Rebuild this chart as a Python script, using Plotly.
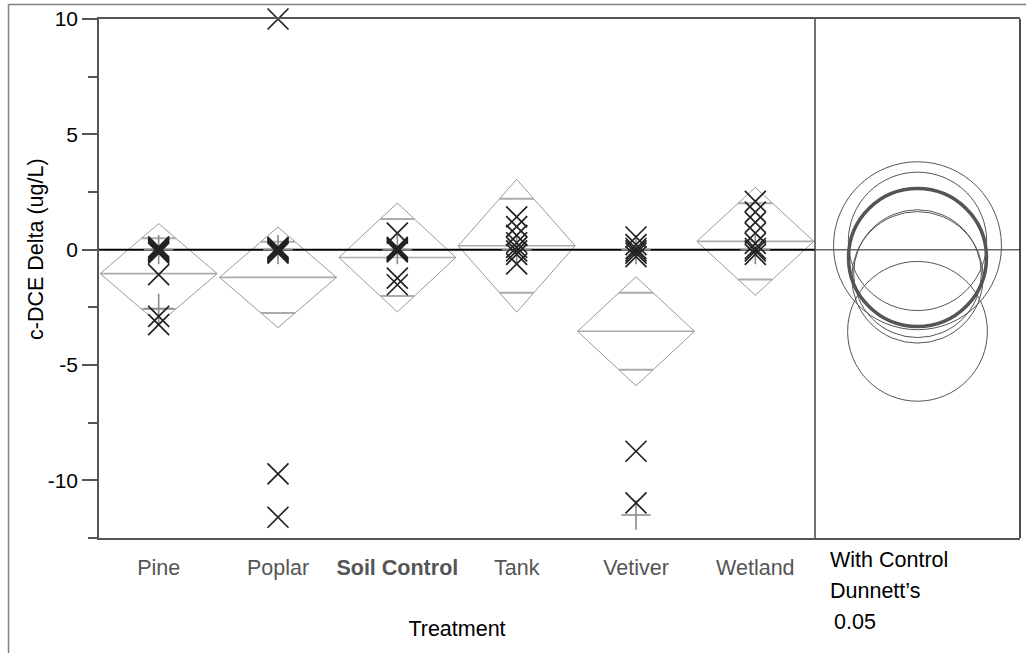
import math
import plotly.graph_objects as go

# ---- data -------------------------------------------------------------
treatments = ["Pine", "Poplar", "Soil Control", "Tank", "Vetiver", "Wetland"]
control = "Soil Control"

pine_vals = [0.12, 0.06, 0.0, -0.05, -0.1, -0.15, -1.08, -2.89, -3.25]
poplar_vals = [10.0, 0.1, 0.05, 0.0, -0.05, -0.1, -0.15, -9.72, -11.6]
soil_vals = [0.72, 0.1, 0.05, 0.0, -0.05, -0.1, -1.23, -1.52]
tank_vals = [1.42, 1.0, 0.62, 0.3, 0.1, -0.05, -0.2, -0.62]
vetiver_vals = [0.55, 0.22, 0.05, -0.05, -0.15, -0.3, -8.74, -10.98]
wetland_vals = [2.09, 1.63, 1.18, 0.72, 0.27, 0.05, -0.05, -0.2]

# second marker state (drawn as grey plus signs)
pine_plus = [0.0, -2.55]
poplar_plus = [0.0]
soil_plus = [0.0]
tank_plus = [0.0]
vetiver_plus = [0.0, -11.5]
wetland_plus = [0.0]

# means diamonds: group mean and 95% CI half-width
group_means = [-1.04, -1.20, -0.34, 0.17, -3.54, 0.36]
ci_half = [2.17, 2.18, 2.36, 2.88, 2.36, 2.34]
# Dunnett's comparison circle radii (with control, alpha 0.05)
circle_radius = [2.77, 2.85, 2.99, 3.64, 3.03, 3.00]

y_ticks = [-10, -5, 0, 5, 10]
y_tick_text = ["-10", "-5", "0", "5", "10"]
y_range = [-12.5, 10]

# ---- layout geometry ----------------------------------------------------
W, H = 1026, 653
ML, MR, MT, MB = 99, 6, 19, 115
PW, PH = W - ML - MR, H - MT - MB
main_w = 716                       # width of the means-diamond panel
split = main_w / PW                # domain split between the two panels
ppu = PH / (y_range[1] - y_range[0])  # pixels per y unit
x2_half = (PW - main_w) / ppu / 2  # right panel x-range so circles stay round

FONT = "Liberation Sans, Arial, sans-serif"
FS = 21.5

def px_x(p):
    return (p - ML) / PW

def px_y(p):
    return 1 - (p - MT) / PH

groups = [pine_vals, poplar_vals, soil_vals, tank_vals, vetiver_vals, wetland_vals]
pluses = [pine_plus, poplar_plus, soil_plus, tank_plus, vetiver_plus, wetland_plus]

fig = go.Figure()

# means diamonds
half_w = 0.49
for i, (m, h) in enumerate(zip(group_means, ci_half)):
    xs = [i - half_w, i, i + half_w, i, i - half_w]
    ys = [m, m + h, m, m - h, m]
    fig.add_trace(go.Scatter(x=xs, y=ys, mode="lines",
                             line=dict(color="#9a9a9a", width=1),
                             hoverinfo="skip", showlegend=False))
    # mean line
    fig.add_trace(go.Scatter(x=[i - half_w, i + half_w], y=[m, m], mode="lines",
                             line=dict(color="#ababab", width=1.6),
                             hoverinfo="skip", showlegend=False))
    # overlap marks
    off = h / math.sqrt(2)
    chord = half_w * (1 - 1 / math.sqrt(2))
    for yy in (m + off, m - off):
        fig.add_trace(go.Scatter(x=[i - chord, i + chord], y=[yy, yy], mode="lines",
                                 line=dict(color="#ababab", width=2),
                                 hoverinfo="skip", showlegend=False))

# reference line at zero
fig.add_trace(go.Scatter(x=[-0.5, 5.5], y=[0, 0], mode="lines",
                         line=dict(color="#000000", width=2),
                         hoverinfo="skip", showlegend=False))

# grey plus markers
px_, py_ = [], []
for i, vals in enumerate(pluses):
    px_ += [i] * len(vals)
    py_ += vals
fig.add_trace(go.Scatter(x=px_, y=py_, mode="markers", cliponaxis=False,
                         marker=dict(symbol="cross-thin", size=21,
                                     line=dict(color="#8a8a8a", width=1.6)),
                         showlegend=False))

# observations
ox, oy = [], []
for i, vals in enumerate(groups):
    ox += [i] * len(vals)
    oy += vals
fig.add_trace(go.Scatter(x=ox, y=oy, mode="markers", cliponaxis=False,
                         marker=dict(symbol="x-thin", size=21,
                                     line=dict(color="#222222", width=1.7)),
                         showlegend=False))

# invisible anchor trace for the comparison-circle panel
fig.add_trace(go.Scatter(x=[0], y=[0], xaxis="x2", yaxis="y", mode="markers",
                         marker=dict(opacity=0), hoverinfo="skip", showlegend=False))

shapes = []
# horizontal line in comparison-circle panel
shapes.append(dict(type="line", xref="x2 domain", yref="y", x0=0, x1=1, y0=0, y1=0,
                   line=dict(color="#6a6a6a", width=1.5)))
# comparison circles
for name, m, r in zip(treatments, group_means, circle_radius):
    shapes.append(dict(type="circle", xref="x2", yref="y",
                       x0=-r, x1=r, y0=m - r, y1=m + r,
                       line=dict(color="#555555", width=3.5 if name == control else 1)))
# panel dividers
shapes.append(dict(type="line", xref="paper", yref="paper", x0=split, x1=split, y0=0, y1=1,
                   line=dict(color="#444444", width=1.5)))
shapes.append(dict(type="line", xref="paper", yref="paper", x0=1, x1=1, y0=0, y1=1,
                   line=dict(color="#111111", width=1.5)))
# outer report frame
shapes.append(dict(type="line", xref="paper", yref="paper",
                   x0=px_x(8.5), x1=px_x(1030), y0=px_y(4.5), y1=px_y(4.5),
                   line=dict(color="#808080", width=1.5)))
shapes.append(dict(type="line", xref="paper", yref="paper",
                   x0=px_x(8.5), x1=px_x(8.5), y0=px_y(4.5), y1=px_y(660),
                   line=dict(color="#808080", width=1.5)))

tick_text = [f"<b>{t}</b>" if t == control else t for t in treatments]

annotations = [
    dict(text="c-DCE Delta (ug/L)", xref="paper", yref="paper", x=px_x(36), y=px_y(249),
         xanchor="center", yanchor="middle", textangle=-90, showarrow=False,
         font=dict(family=FONT, size=FS, color="#000")),
    dict(text="With Control", xref="paper", yref="paper", x=px_x(828), y=px_y(560),
         xanchor="left", yanchor="middle", showarrow=False,
         font=dict(family=FONT, size=FS, color="#000")),
    dict(text="Dunnett\u2019s", xref="paper", yref="paper", x=px_x(828), y=px_y(591),
         xanchor="left", yanchor="middle", showarrow=False,
         font=dict(family=FONT, size=FS, color="#000")),
    dict(text="0.05", xref="paper", yref="paper", x=px_x(832), y=px_y(622),
         xanchor="left", yanchor="middle", showarrow=False,
         font=dict(family=FONT, size=FS, color="#000")),
]

fig.update_layout(
    width=W, height=H,
    margin=dict(l=ML, r=MR, t=MT, b=MB),
    paper_bgcolor="white", plot_bgcolor="white",
    font=dict(family=FONT, size=FS, color="#000"),
    showlegend=False,
    shapes=shapes,
    annotations=annotations,
    xaxis=dict(domain=[0, split], range=[-0.5, 5.5], tickvals=list(range(6)),
               ticktext=tick_text, ticks="outside", ticklen=9,
               tickcolor="rgba(0,0,0,0)", tickfont=dict(color="#555555", size=FS),
               showline=True, linecolor="#555555", linewidth=1.5, mirror=True,
               showgrid=False, zeroline=False,
               title=dict(text="Treatment", standoff=42, font=dict(size=FS))),
    xaxis3=dict(overlaying="x", range=[-0.5, 5.5], tickvals=[0.5, 1.5, 2.5, 3.5, 4.5],
                ticks="outside", ticklen=12, tickcolor="#555555", tickwidth=1.5,
                showticklabels=False, showline=False, showgrid=False, zeroline=False,
                anchor="y", side="bottom"),
    xaxis2=dict(domain=[split, 1], range=[-x2_half, x2_half], anchor="y",
                showline=True, linecolor="#555555", linewidth=1.5, mirror=True,
                ticks="", showticklabels=False, showgrid=False, zeroline=False),
    yaxis=dict(range=y_range, tickvals=y_ticks, ticktext=y_tick_text,
               ticks="outside", ticklen=15,
               tickwidth=1.5, tickcolor="#555555",
               minor=dict(dtick=2.5, tick0=0, ticks="outside", ticklen=9,
                          tickwidth=1.5, tickcolor="#555555"),
               showline=True, linecolor="#555555", linewidth=1.5,
               showgrid=False, zeroline=False, anchor="x",
               tickfont=dict(size=21, color="#000")),
)

fig.write_html("out.html")
